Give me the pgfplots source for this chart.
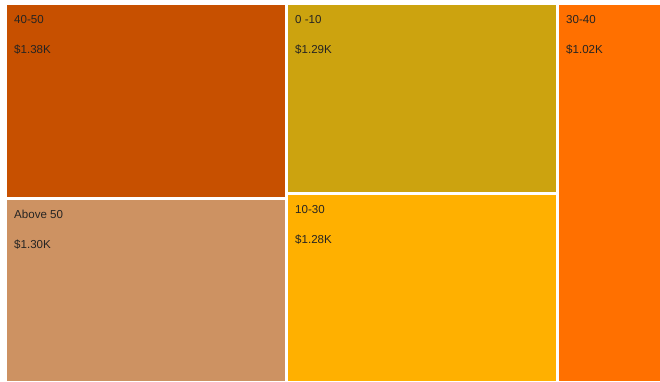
\documentclass[border=0pt]{standalone}
\usepackage{pgfplots}
\pgfplotsset{compat=1.18}
\usepackage{fontspec}
\setmainfont{Liberation Sans}
\definecolor{cA}{HTML}{C75000}
\definecolor{cB}{HTML}{CD9262}
\definecolor{cC}{HTML}{CCA30F}
\definecolor{cD}{HTML}{FFB000}
\definecolor{cE}{HTML}{FF7000}
\definecolor{txt}{HTML}{252423}
\begin{document}
\begin{tikzpicture}
\begin{axis}[
  width=660bp, height=381bp, scale only axis,
  xmin=0, xmax=660, ymin=0, ymax=381, y dir=reverse,
  hide axis, clip=false,
]
\addplot[fill=white, draw=none] coordinates {(0,0) (660,0) (660,381) (0,381)} -- cycle;
% 40-50
\addplot[fill=cA, draw=none] coordinates {(7,5) (285,5) (285,197) (7,197)} -- cycle;
% Above 50
\addplot[fill=cB, draw=none] coordinates {(7,200) (285,200) (285,381) (7,381)} -- cycle;
% 0-10
\addplot[fill=cC, draw=none] coordinates {(288,5) (556,5) (556,192) (288,192)} -- cycle;
% 10-30
\addplot[fill=cD, draw=none] coordinates {(288,195) (556,195) (556,381) (288,381)} -- cycle;
% 30-40
\addplot[fill=cE, draw=none] coordinates {(559,5) (660,5) (660,381) (559,381)} -- cycle;
\tikzset{lab/.style={anchor=base west, inner sep=0pt, text=txt, font=\fontsize{11.6}{13}\selectfont}}
\node[lab] at (axis cs:14,23.6) {40-50};
\node[lab] at (axis cs:14,53.7) {\$1.38K};
\node[lab] at (axis cs:14,218.6) {Above 50};
\node[lab] at (axis cs:14,248.7) {\$1.30K};
\node[lab] at (axis cs:295,23.6) {0 -10};
\node[lab] at (axis cs:295,53.7) {\$1.29K};
\node[lab] at (axis cs:295,213.6) {10-30};
\node[lab] at (axis cs:295,243.7) {\$1.28K};
\node[lab] at (axis cs:566,23.6) {30-40};
\node[lab] at (axis cs:566,53.7) {\$1.02K};
\end{axis}
\end{tikzpicture}
\end{document}
